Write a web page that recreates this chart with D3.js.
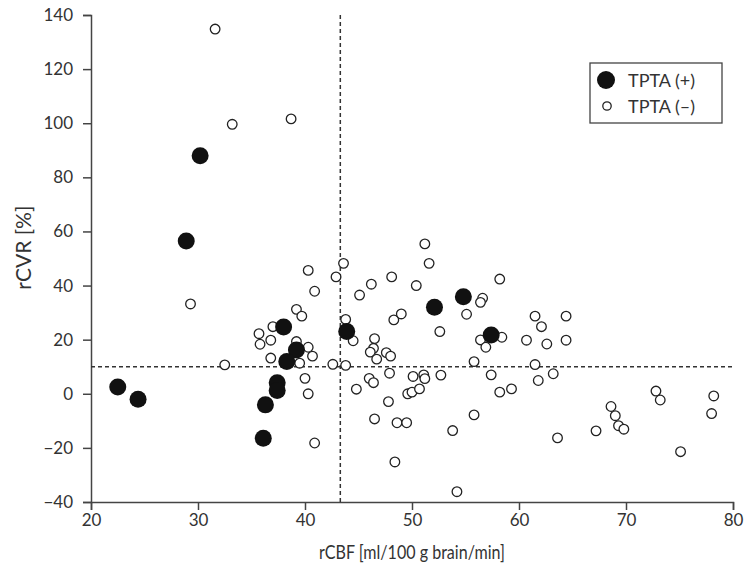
<!DOCTYPE html>
<head>
  <meta charset="utf-8">
  <script src="https://d3js.org/d3.v7.min.js"></script>
  <style>
    body { margin: 0; background: #fff; }
    text { font-family: Lato, "Noto Sans", sans-serif; fill: #333; }
    .axis path, .axis line { stroke: #444; stroke-width: 1.5; }
    .axis text { font-size: 17px; fill: #333; font-family: Lato, "Noto Sans", sans-serif; }
  </style>
</head>

<body>
  <script>

  // TPTA (+) : filled
  var tptaPos = [
    [22.5, 2.5], [24.4, -2], [28.9, 56.5], [30.2, 88], [38.0, 24.7],
    [39.2, 16.2], [38.3, 11.9], [37.4, 4.1], [37.4, 1.2], [36.3, -4.1],
    [36.1, -16.4], [43.9, 23], [52.1, 32], [54.8, 35.9], [57.4, 21.7]
  ];

  // TPTA (-) : open
  var tptaNeg = [
    [31.6, 134.8], [33.2, 99.6], [38.7, 101.6], [29.3, 33.2], [32.5, 10.7],
    [35.7, 22.2], [35.8, 18.3], [36.8, 19.8], [36.8, 13.2], [37.0, 24.8],
    [39.2, 31.2], [39.7, 28.7], [39.2, 19.3], [40.3, 17.2], [40.7, 13.9],
    [39.5, 11.3], [40.0, 5.7], [40.3, 0.0], [40.9, -18.2], [40.3, 45.6],
    [40.9, 37.9], [42.9, 43.2], [43.6, 48.2], [43.8, 27.5], [44.5, 19.6],
    [42.6, 10.9], [43.8, 10.5], [44.8, 1.7], [45.1, 36.5], [46.2, 40.5],
    [46.5, 20.4], [46.4, 16.8], [46.1, 15.4], [46.7, 12.8], [47.6, 15.2],
    [48.0, 13.9], [47.9, 7.6], [46.0, 5.7], [46.4, 4.1], [46.5, -9.3],
    [47.8, -2.9], [48.6, -10.7], [49.5, -10.7], [48.4, -25.2], [48.1, 43.2],
    [48.3, 27.3], [49.0, 29.5], [50.4, 40.0], [51.2, 55.4], [51.6, 48.2],
    [52.6, 23.0], [50.1, 6.4], [51.1, 7.0], [51.2, 5.6], [49.6, 0.0],
    [50.0, 0.6], [50.7, 1.8], [52.7, 6.9], [53.8, -13.6], [54.2, -36.2],
    [55.1, 29.4], [56.6, 35.3], [56.4, 33.8], [56.4, 19.9], [56.9, 17.2],
    [58.4, 20.9], [58.2, 42.4], [55.8, 11.9], [55.8, -7.8], [57.4, 7.0],
    [58.2, 0.6], [59.3, 1.8], [60.7, 19.8], [61.5, 28.7], [62.1, 24.8],
    [62.6, 18.4], [64.4, 28.7], [64.4, 19.8], [61.5, 10.8], [61.8, 4.9],
    [63.2, 7.4], [63.6, -16.3], [67.2, -13.7], [68.6, -4.7], [69.0, -8.1],
    [69.3, -11.8], [69.8, -13.1], [72.8, 1.0], [73.2, -2.3], [75.1, -21.4],
    [78.2, -0.8], [78.0, -7.3]
  ];

  var xTicks = [20, 30, 40, 50, 60, 70, 80];
  var yTicks = [-40, -20, 0, 20, 40, 60, 80, 100, 120, 140];
  var cutX = 43.3, cutY = 10;
  var legendLabels = ["TPTA (+)", "TPTA (\u2013)"];

  var margin = {top: 15, right: 12, bottom: 68, left: 91},
      width = 745 - margin.left - margin.right,
      height = 570 - margin.top - margin.bottom;

  var svg = d3.select("body").append("svg")
      .attr("width", 745)
      .attr("height", 570);

  var g = svg.append("g")
      .attr("transform", "translate(" + margin.left + "," + margin.top + ")");

  var x = d3.scaleLinear().domain([20, 80]).range([0, width]);
  var y = d3.scaleLinear().domain([-40, 140]).range([height, 0]);

  g.append("g")
      .attr("class", "axis")
      .attr("transform", "translate(0," + height + ")")
      .call(d3.axisBottom(x).tickValues(xTicks).tickSizeOuter(0).tickSize(8).tickPadding(4));

  g.append("g")
      .attr("class", "axis")
      .call(d3.axisLeft(y).tickValues(yTicks).tickSizeOuter(0).tickSize(8).tickPadding(10));

  // cut-off lines
  g.append("line")
      .attr("x1", x(cutX)).attr("x2", x(cutX))
      .attr("y1", y(140)).attr("y2", y(-40))
      .attr("stroke", "#333").attr("stroke-width", 1.5)
      .attr("stroke-dasharray", "4,3");

  g.append("line")
      .attr("x1", x(20)).attr("x2", x(80))
      .attr("y1", y(cutY)).attr("y2", y(cutY))
      .attr("stroke", "#333").attr("stroke-width", 1.5)
      .attr("stroke-dasharray", "4,3");

  g.selectAll(".neg")
    .data(tptaNeg)
    .enter().append("circle")
      .attr("class", "neg")
      .attr("cx", function(d) { return x(d[0]); })
      .attr("cy", function(d) { return y(d[1]); })
      .attr("r", 4.8)
      .attr("fill", "#fff")
      .attr("stroke", "#222")
      .attr("stroke-width", 1.3);

  g.selectAll(".pos")
    .data(tptaPos)
    .enter().append("circle")
      .attr("class", "pos")
      .attr("cx", function(d) { return x(d[0]); })
      .attr("cy", function(d) { return y(d[1]); })
      .attr("r", 8.5)
      .attr("fill", "#111");

  // axis titles
  svg.append("text")
      .attr("x", margin.left + width / 2)
      .attr("y", 559)
      .attr("text-anchor", "middle")
      .attr("textLength", 186)
      .attr("lengthAdjust", "spacingAndGlyphs")
      .style("font-size", "19px")
      .text("rCBF [ml/100 g brain/min]");

  svg.append("text")
      .attr("transform", "translate(31," + (margin.top + y(54)) + ")rotate(-90)")
      .attr("text-anchor", "middle")
      .style("font-size", "21px")
      .text("rCVR [%]");

  // legend
  var legend = svg.append("g").attr("transform", "translate(590,63)");

  legend.append("rect")
      .attr("width", 132).attr("height", 60)
      .attr("fill", "#fff")
      .attr("stroke", "#444").attr("stroke-width", 1.3);

  legend.append("circle")
      .attr("cx", 16).attr("cy", 17).attr("r", 9)
      .attr("fill", "#111");

  legend.append("circle")
      .attr("cx", 17).attr("cy", 43).attr("r", 4.2)
      .attr("fill", "#fff").attr("stroke", "#222").attr("stroke-width", 1.3);

  legend.selectAll(".lab")
    .data(legendLabels)
    .enter().append("text")
      .attr("class", "lab")
      .attr("x", 38)
      .attr("y", function(d, i) { return 24 + i * 26; })
      .style("font-size", "18px")
      .text(function(d) { return d; });

  </script>
</body>
